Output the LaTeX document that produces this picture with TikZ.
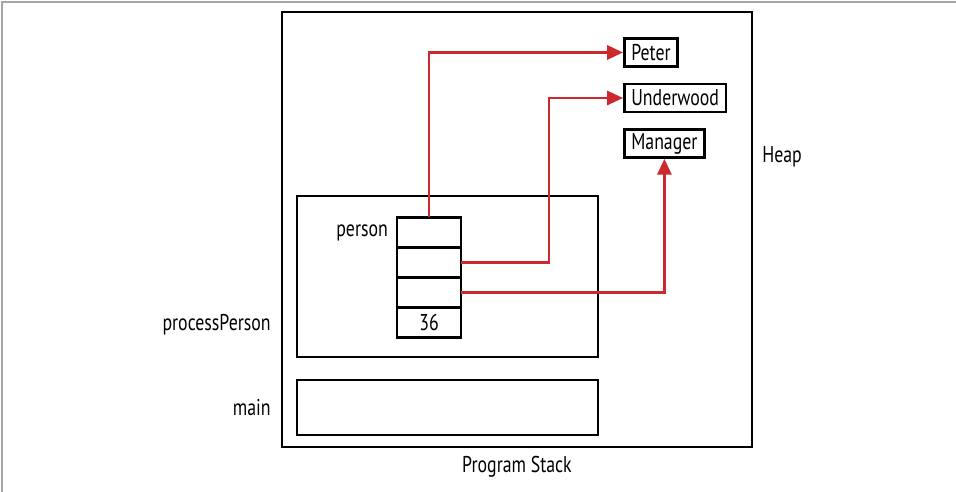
\documentclass[tikz,border=0pt]{standalone}
\usepackage{fontspec}
\setmainfont{PT Sans}[FakeStretch=0.78]
\usepackage{tikz}
\usetikzlibrary{arrows.meta, positioning}
\definecolor{refred}{RGB}{204,40,45}
\tikzset{
  frame/.style={rectangle, draw=black, line width=1.5pt, inner sep=0pt},
  cell/.style={rectangle, draw=black, line width=1.5pt, outer sep=0pt,
    minimum width=1.28cm, minimum height=0.6cm, inner sep=0pt, font=\fontsize{13}{15}\selectfont},
  obj/.style={rectangle, draw=black, line width=1.5pt, minimum height=0.56cm,
    inner xsep=0.14cm, inner ysep=0pt, font=\fontsize{13}{15}\selectfont},
  lbl/.style={inner sep=0pt, font=\fontsize{13}{15}\selectfont},
  ref/.style={-{Triangle[length=9pt, width=8pt]}, draw=refred, line width=1.5pt}
}
\begin{document}
\begin{tikzpicture}[x=0.02cm, y=-0.02cm]
\useasboundingbox (0,0) rectangle (956,492);
\draw[gray!70, line width=0.8pt] (2,492) -- (2,2) -- (956,2);

% program stack and heap
\node (heap)  [frame, minimum width=9.4cm, minimum height=8.7cm] at (517,229.5) {};
\node (proc)  [frame, minimum width=6.02cm, minimum height=3.22cm] at (447.5,276.5) {};
\node (main)  [frame, minimum width=6.02cm, minimum height=1.1cm] at (447.5,407.5) {};

\node (c1) [cell] at (429,232.5) {};
\node (c2) [cell, below=0pt of c1] {};
\node (c3) [cell, below=0pt of c2] {};
\node (c4) [cell, below=0pt of c3] {36};

\node (peter) [obj, anchor=west] at (623,52.5)  {Peter};
\node (under) [obj, anchor=west] at (623,98)    {Underwood};
\node (mgr)   [obj, anchor=west] at (623,143.5) {Manager};

% labels
\node (person)   [lbl, left=5pt of c1]            {person};
\node (proclbl)  [lbl, anchor=east] at (271,325)  {processPerson};
\node (mainlbl)  [lbl, anchor=east] at (271,408)  {main};
\node (heaplbl)  [lbl, anchor=west] at (762,157)  {Heap};
\node (stacklbl) [lbl] at (517,467)               {Program Stack};

% references
\draw [ref] (c1.north) |- (peter.west);
\draw [ref] (c2.east) -- ++(88,0) |- (under.west);
\draw [ref] (c3.east) -| (mgr.south);
\end{tikzpicture}
\end{document}
